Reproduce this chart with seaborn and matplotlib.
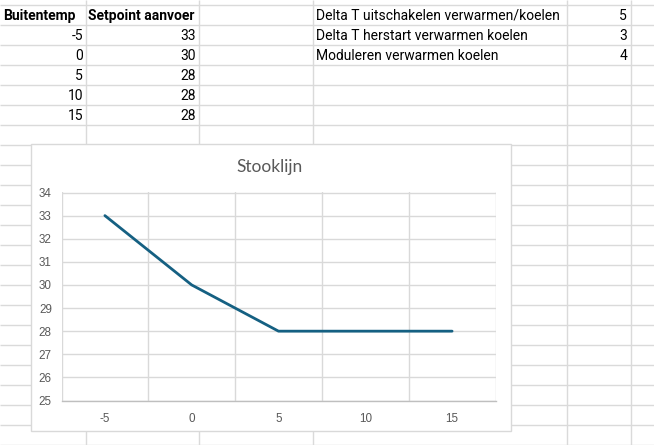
import matplotlib
matplotlib.use("Agg")
import matplotlib.pyplot as plt
from matplotlib.patches import Rectangle
import seaborn as sns
import pandas as pd

# ---- data ----
buitentemp = [-5, 0, 5, 10, 15]
setpoint = [33, 30, 28, 28, 28]
col_headers = ["Buitentemp", "Setpoint aanvoer"]
param_labels = ["Delta T uitschakelen verwarmen/koelen",
                "Delta T herstart verwarmen koelen",
                "Moduleren verwarmen koelen"]
param_values = [5, 3, 4]
chart_title = "Stooklijn"
y_ticks = list(range(25, 35))

sns.set_theme(style="white")
plt.rcParams['font.family'] = ['Liberation Sans', 'DejaVu Sans']
plt.rcParams['axes.unicode_minus'] = False

W, H = 654, 445
fig = plt.figure(figsize=(W / 100, H / 100), dpi=100)
fig.patch.set_facecolor("white")

# ---- spreadsheet background ----
bg = fig.add_axes([0, 0, 1, 1])
bg.set_xlim(0, W)
bg.set_ylim(H, 0)
bg.axis("off")
grid_c = "#dadada"
row_lines = list(range(5, H + 1, 20))
col_lines = [86, 199, 313, 567, 631]
bg.hlines(row_lines, 0, W, colors=grid_c, lw=1, zorder=1)
bg.vlines(col_lines, 0, H, colors=grid_c, lw=1, zorder=1)

cell_font = ['Roboto', 'DejaVu Sans']
fs = 10.0
bg.text(3, 16, col_headers[0], fontsize=fs, fontweight="bold", family=cell_font,
        va="center", ha="left", color="black")
bg.text(88, 16, col_headers[1], fontsize=fs, fontweight="bold", family=cell_font,
        va="center", ha="left", color="black")
for i, (bt, sp) in enumerate(zip(buitentemp, setpoint)):
    yy = 36 + 20 * i
    bg.text(83, yy, str(bt), fontsize=fs, family=cell_font, va="center", ha="right", color="black")
    bg.text(196, yy, str(sp), fontsize=fs, family=cell_font, va="center", ha="right", color="black")
for i, (lab, val) in enumerate(zip(param_labels, param_values)):
    yy = 16 + 20 * i
    bg.text(316, yy, lab, fontsize=fs, family=cell_font, va="center", ha="left", color="black")
    bg.text(627, yy, str(val), fontsize=fs, family=cell_font, va="center", ha="right", color="black")

# chart box
bg.add_patch(Rectangle((30.5, 143.5), 480, 287.5, facecolor="white",
                       edgecolor="#d9d9d9", lw=1, zorder=5))
bg.text(270, 167, chart_title, fontsize=12.5, color="#595959", ha="center", va="center",
        family=['Lato', 'DejaVu Sans'], zorder=6)

# ---- chart ----
left, right, top, bottom = 61.5, 495.5, 192.5, 400.5
ax = fig.add_axes([left / W, (H - bottom) / H, (right - left) / W, (bottom - top) / H])
ax.set_zorder(10)
ax.patch.set_alpha(0)
df = pd.DataFrame({"Buitentemp": buitentemp, "Setpoint": setpoint})
sns.lineplot(data=df, x="Buitentemp", y="Setpoint", ax=ax, color="#156082", lw=2, zorder=3)
ax.set_xlim(-7.5, 17.5)
ax.set_ylim(25, 34)
ax.set_xticks(buitentemp)
ax.set_xticks([-7.5, -2.5, 2.5, 7.5, 12.5, 17.5], minor=True)
ax.set_yticks(y_ticks)
ax.grid(False)
ax.grid(True, which="minor", axis="x", color="#d9d9d9", lw=1)
ax.grid(True, which="major", axis="y", color="#d9d9d9", lw=1)
ax.set_axisbelow(True)
for s in ["top", "right", "left"]:
    ax.spines[s].set_visible(False)
ax.spines["bottom"].set_color("#bfbfbf")
ax.spines["bottom"].set_linewidth(1)
ax.tick_params(axis="both", which="both", length=0, labelsize=8.4, labelcolor="#595959")
ax.tick_params(axis="x", pad=9)
ax.tick_params(axis="y", pad=7)
ax.set_xlabel("")
ax.set_ylabel("")

fig.savefig("out.png", dpi=100, facecolor="white")
